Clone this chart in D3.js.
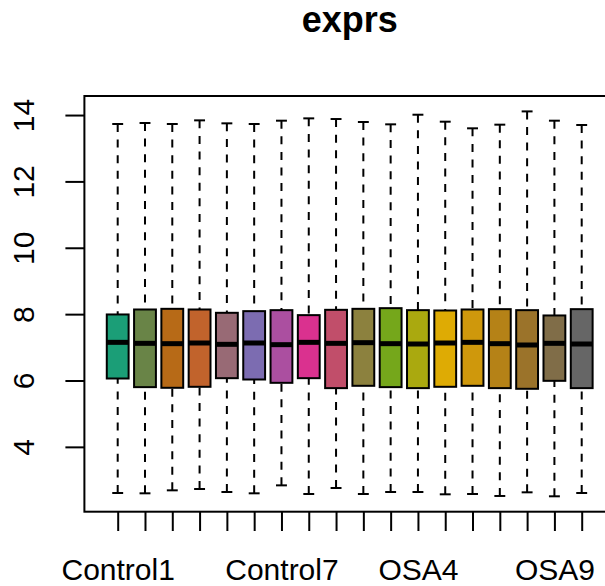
<!DOCTYPE html>
<html>
<head>
<meta charset="utf-8">
<script src="https://cdn.jsdelivr.net/npm/d3@7"></script>
<style>
  body { margin: 0; background: #fff; }
  svg { display: block; font-family: "Liberation Sans", Arial, Helvetica, sans-serif; }
</style>
</head>
<body>
<div id="chart"></div>
<script>
// sample names (only some get a label, like R drops overlapping ones)
var sampleNames = ["Control1", "Control2", "Control3", "Control4", "Control5", "Control6", "Control7", "Control8",
    "OSA1", "OSA2", "OSA3", "OSA4", "OSA5", "OSA6", "OSA7", "OSA8", "OSA9", "OSA10"];
var shownLabels = ["Control1", "Control7", "OSA4", "OSA9"];

// five number summaries
var whiskerLow  = [2.61, 2.60, 2.69, 2.73, 2.64, 2.60, 2.84, 2.58, 2.76, 2.58, 2.64, 2.64, 2.57, 2.58, 2.52, 2.63, 2.51, 2.61];
var q1          = [6.06, 5.80, 5.78, 5.81, 6.07, 6.03, 5.93, 6.07, 5.77, 5.84, 5.80, 5.77, 5.81, 5.84, 5.77, 5.75, 5.99, 5.77];
var medians     = [7.15, 7.12, 7.11, 7.13, 7.09, 7.13, 7.08, 7.15, 7.12, 7.14, 7.11, 7.10, 7.13, 7.15, 7.11, 7.07, 7.12, 7.10];
var q3          = [7.99, 8.14, 8.16, 8.14, 8.04, 8.09, 8.12, 7.97, 8.13, 8.16, 8.18, 8.12, 8.11, 8.14, 8.15, 8.12, 7.96, 8.15];
var whiskerHigh = [13.73, 13.76, 13.73, 13.84, 13.75, 13.73, 13.83, 13.90, 13.88, 13.79, 13.72, 14.01, 13.80, 13.60, 13.71, 14.11, 13.83, 13.70];

var yTicks = [4, 6, 8, 10, 12, 14];

var width = 605, height = 586;
var plotLeft = 84.4, plotTop = 96, plotRight = 615, plotBottom = 511.7;

var svg = d3.select("#chart").append("svg")
    .attr("width", width)
    .attr("height", height);

var n = sampleNames.length;
// R style 4% axis extension
var x = d3.scaleLinear()
    .domain([0.5 - 0.04 * n, n + 0.5 + 0.04 * n])
    .range([plotLeft, plotRight]);

var lo = d3.min(whiskerLow), hi = d3.max(whiskerHigh);
var pad = (hi - lo) * 0.04;
var y = d3.scaleLinear()
    .domain([lo - pad, hi + pad])
    .range([plotBottom, plotTop]);

// colorRampPalette(brewer.pal(8, "Dark2"))(18)
var colors = d3.quantize(d3.piecewise(d3.interpolateRgb, d3.schemeDark2), n);

var boxHalf = x(1.4) - x(1);
var stapleHalf = x(1.2) - x(1);

var boxes = svg.append("g");
for (var i = 0; i < n; i++) {
    var cx = x(i + 1);
    var g = boxes.append("g");

    // whiskers, drawn from the end toward the box
    g.append("line")
        .attr("x1", cx).attr("x2", cx)
        .attr("y1", y(whiskerHigh[i])).attr("y2", y(q3[i]))
        .style("stroke", "#000").style("stroke-width", 2)
        .style("stroke-dasharray", "8,7.6");
    g.append("line")
        .attr("x1", cx).attr("x2", cx)
        .attr("y1", y(whiskerLow[i])).attr("y2", y(q1[i]))
        .style("stroke", "#000").style("stroke-width", 2)
        .style("stroke-dasharray", "8,7.6");

    // staples
    [whiskerHigh[i], whiskerLow[i]].forEach(function (v) {
        g.append("line")
            .attr("x1", cx - stapleHalf).attr("x2", cx + stapleHalf)
            .attr("y1", y(v)).attr("y2", y(v))
            .style("stroke", "#000").style("stroke-width", 2);
    });

    g.append("rect")
        .attr("x", cx - boxHalf)
        .attr("y", y(q3[i]))
        .attr("width", boxHalf * 2)
        .attr("height", y(q1[i]) - y(q3[i]))
        .style("fill", colors[i])
        .style("stroke", "#000")
        .style("stroke-width", 2);

    g.append("line")
        .attr("x1", cx - boxHalf).attr("x2", cx + boxHalf)
        .attr("y1", y(medians[i])).attr("y2", y(medians[i]))
        .style("stroke", "#000").style("stroke-width", 5);
}

// frame
svg.append("rect")
    .attr("x", plotLeft).attr("y", plotTop)
    .attr("width", plotRight - plotLeft).attr("height", plotBottom - plotTop)
    .style("fill", "none").style("stroke", "#000").style("stroke-width", 2);

// y axis
var yAxis = svg.append("g")
    .attr("transform", "translate(" + plotLeft + ",0)")
    .call(d3.axisLeft(y).tickValues(yTicks).tickSize(19).tickSizeOuter(0));
yAxis.select(".domain").remove();
yAxis.selectAll("line").style("stroke", "#000").style("stroke-width", 2);
yAxis.selectAll("text")
    .attr("x", null).attr("dy", null)
    .attr("transform", "translate(-50,0) rotate(-90)")
    .attr("text-anchor", "middle")
    .style("font-size", "30px")
    .style("fill", "#000")
    .style("font-family", "'Liberation Sans', Arial, sans-serif");

// x axis
var xAxis = svg.append("g")
    .attr("transform", "translate(0," + plotBottom + ")")
    .call(d3.axisBottom(x)
        .tickValues(d3.range(1, n + 1))
        .tickSize(19.3)
        .tickSizeOuter(0)
        .tickFormat(function (d) {
            var name = sampleNames[d - 1];
            return shownLabels.indexOf(name) >= 0 ? name : "";
        }));
xAxis.select(".domain").remove();
xAxis.selectAll("line").style("stroke", "#000").style("stroke-width", 2);
xAxis.selectAll("text")
    .attr("y", 68.5).attr("dy", null)
    .style("font-size", "30px")
    .style("fill", "#000")
    .style("font-family", "'Liberation Sans', Arial, sans-serif");

// title
svg.append("text")
    .attr("x", (plotLeft + plotRight) / 2)
    .attr("y", 32)
    .attr("text-anchor", "middle")
    .style("font-size", "36px")
    .style("font-weight", "bold")
    .text("exprs");
</script>
</body>
</html>
